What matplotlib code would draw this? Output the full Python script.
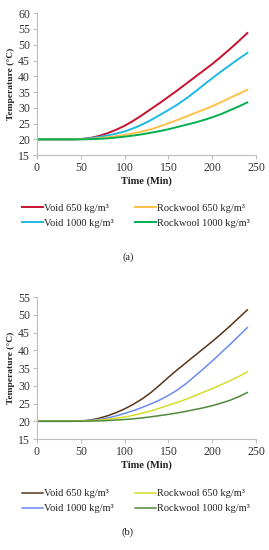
import matplotlib
matplotlib.use("Agg")
import matplotlib.pyplot as plt
from matplotlib.lines import Line2D

plt.rcParams['font.family'] = ['Liberation Serif', 'DejaVu Serif']

time_min = list(range(0, 250, 10))

# Panel (a)
void650_a = [20, 20, 20, 20, 20, 20.1, 20.4, 21.0, 21.9, 23.0, 24.3, 25.9, 27.7, 29.6, 31.5,
             33.5, 35.5, 37.6, 39.7, 41.8, 43.9, 46.2, 48.6, 51.1, 53.7]
void1000_a = [20, 20, 20, 20, 20, 20.1, 20.3, 20.7, 21.2, 21.8, 22.5, 23.5, 24.7, 26.1, 27.7,
              29.3, 31.0, 32.9, 35.0, 37.2, 39.4, 41.5, 43.5, 45.5, 47.4]
rock650_a = [20, 20, 20, 20, 20, 20.05, 20.15, 20.35, 20.65, 21.0, 21.4, 21.9, 22.5, 23.2, 24.1,
             25.1, 26.1, 27.2, 28.3, 29.4, 30.5, 31.8, 33.1, 34.4, 35.7]
rock1000_a = [20, 20, 20, 20, 20, 20.0, 20.05, 20.15, 20.3, 20.55, 20.85, 21.2, 21.6, 22.1, 22.6,
              23.2, 23.9, 24.6, 25.3, 26.1, 27.0, 28.0, 29.2, 30.4, 31.7]

# Panel (b)
void650_b = [20, 20, 20, 20, 20, 20.1, 20.3, 20.8, 21.5, 22.4, 23.5, 24.8, 26.3, 28.1, 30.2,
             32.4, 34.5, 36.5, 38.5, 40.5, 42.5, 44.6, 46.8, 49.1, 51.4]
void1000_b = [20, 20, 20, 20, 20, 20.05, 20.2, 20.5, 20.9, 21.5, 22.2, 23.0, 23.9, 24.9, 26.0,
              27.3, 28.8, 30.6, 32.7, 34.8, 37.0, 39.3, 41.6, 44.0, 46.4]
rock650_b = [20, 20, 20, 20, 20, 20.05, 20.15, 20.3, 20.55, 20.85, 21.2, 21.7, 22.3, 22.9, 23.7,
             24.5, 25.3, 26.2, 27.2, 28.2, 29.2, 30.3, 31.4, 32.6, 33.9]
rock1000_b = [20, 20, 20, 20, 20, 20, 20.05, 20.1, 20.2, 20.35, 20.5, 20.7, 20.95, 21.25, 21.6,
              21.95, 22.35, 22.8, 23.3, 23.8, 24.4, 25.1, 25.9, 26.9, 28.1]

series_labels = ["Void 650 kg/m³", "Void 1000 kg/m³", "Rockwool 650 kg/m³", "Rockwool 1000 kg/m³"]
x_ticks = [0, 50, 100, 150, 200, 250]

colors_a = ["#C8102E", "#1DB8E4", "#FFC04A", "#00B050"]
colors_b = ["#5A3418", "#6A8CF0", "#D6DC2A", "#4E8A3A"]

fig = plt.figure(figsize=(2.69, 5.5), dpi=100)

def make_panel(rect, data, colors, ylim, yticks, lw, leg_y, tag, tag_y):
    ax = fig.add_axes(rect)
    for vals, c, lab in zip(data, colors, series_labels):
        ax.plot(time_min, vals, color=c, lw=lw, label=lab)
    ax.set_xlim(0, 250)
    ax.set_ylim(*ylim)
    ax.set_xticks(x_ticks)
    ax.set_yticks(yticks)
    for s in ['top', 'right']:
        ax.spines[s].set_visible(False)
    for s in ['left', 'bottom']:
        ax.spines[s].set_color('#BFBFBF')
        ax.spines[s].set_linewidth(0.8)
    ax.tick_params(colors='#BFBFBF', labelcolor='#333333', labelsize=8.5, length=3, width=0.8, pad=2)
    ax.set_xlabel("Time (Min)", fontsize=7.5, fontweight='bold', labelpad=2, color='#222222')
    ax.set_ylabel("Temperature (°C)", fontsize=6.8, fontweight='bold', labelpad=2, color='#222222')
    handles = [Line2D([], [], color=c, lw=lw) for c in colors]
    fig.legend(handles, series_labels, loc='center', bbox_to_anchor=(0.505, leg_y), ncol=2,
               frameon=False, fontsize=7.5, handlelength=2.0, handletextpad=0.1,
               columnspacing=2.1, labelspacing=0.55, labelcolor='#222222')
    fig.text(0.475, tag_y, tag, ha='center', va='center', fontsize=7.5, color='#222222')
    return ax

make_panel([0.1375, 0.718, 0.8145, 0.258],
           [void650_a, void1000_a, rock650_a, rock1000_a], colors_a,
           (15, 60), list(range(15, 61, 5)), 1.4, 0.608, "(a)", 0.533)
make_panel([0.1375, 0.2018, 0.8145, 0.258],
           [void650_b, void1000_b, rock650_b, rock1000_b], colors_b,
           (15, 55), list(range(15, 56, 5)), 1.1, 0.089, "(b)", 0.033)

fig.savefig("out.png", dpi=100)
